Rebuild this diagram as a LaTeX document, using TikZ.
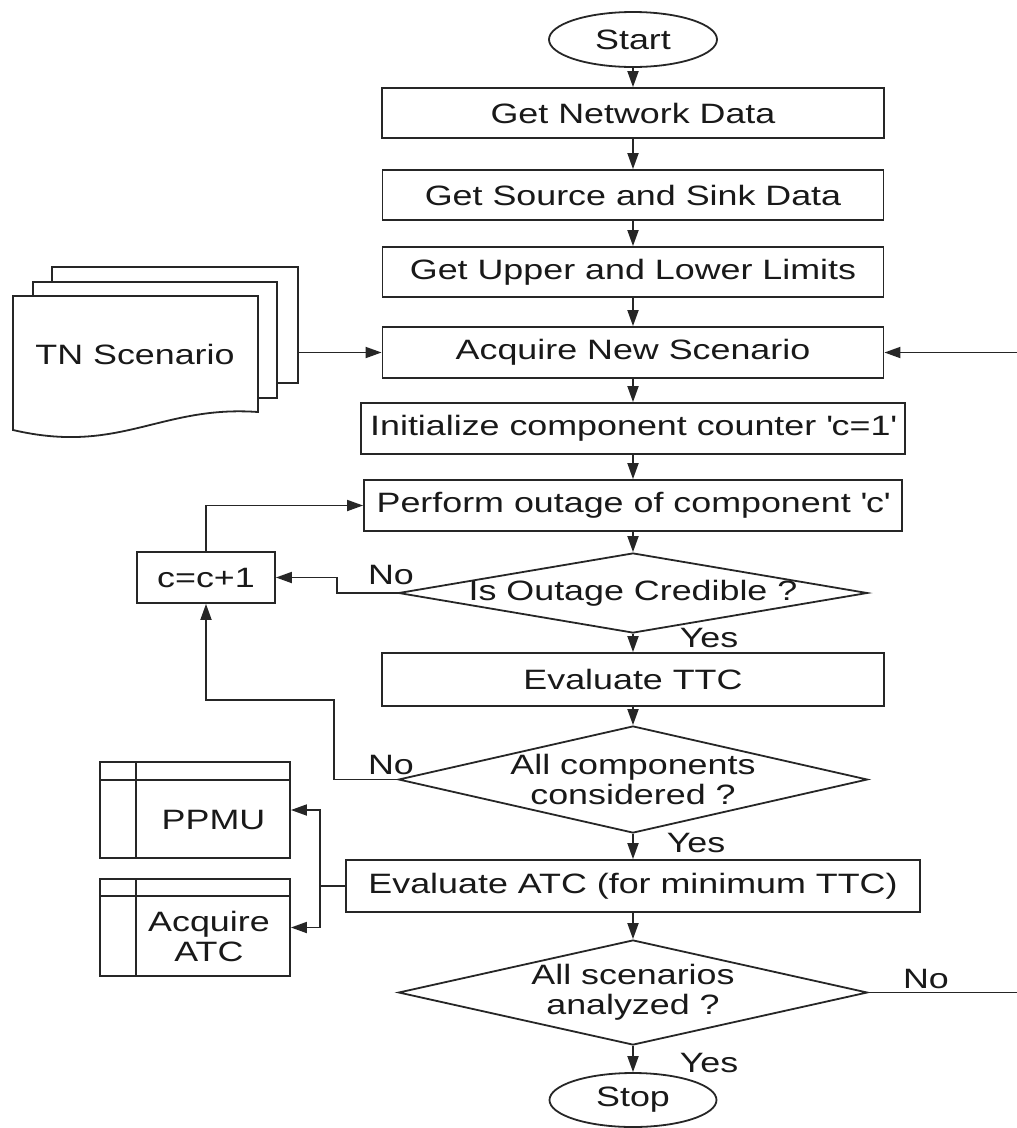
\documentclass[tikz,border=0pt]{standalone}
\usepackage{fontspec}
\setmainfont{Liberation Sans}[FakeStretch=1.28]
\usetikzlibrary{arrows.meta,shapes.geometric}
\begin{document}
\begin{tikzpicture}[x=1pt,y=-1pt,
  every node/.style={font=\fontsize{28}{30}\selectfont, text=black!90},
  ln/.style={line width=1.8pt, draw=black!85},
  box/.style={ln, rectangle, inner sep=0pt, fill=white},
  term/.style={ln, ellipse, inner sep=0pt, minimum width=168pt, minimum height=55pt},
  dec/.style={ln, diamond, inner sep=0pt, minimum width=469pt},
  arr/.style={ln, -{Triangle[length=16pt,width=11pt]}}
]
\useasboundingbox (0,0) rectangle (1017,1128);

% main column
\node[term] (start) at (633,39.5) {Start};
\node[box, minimum width=502pt, minimum height=50pt] (net) at (633,113) {Get Network Data};
\node[box, minimum width=501pt, minimum height=50pt] (src) at (633,195) {Get Source and Sink Data};
\node[box, minimum width=501pt, minimum height=50pt] (lim) at (633,272) {Get Upper and Lower Limits};
\node[box, minimum width=501pt, minimum height=51pt] (acq) at (633,352.5) {Acquire New Scenario};
\node[box, minimum width=544pt, minimum height=51pt] (init) at (633,428.5) {Initialize component counter \textquotesingle c=1\textquotesingle};
\node[box, minimum width=538pt, minimum height=51pt] (perf) at (633,505.5) {Perform outage of component \textquotesingle c\textquotesingle};
\node[dec, minimum height=80pt, label={center:Is Outage Credible ?}] (d1) at (633,593) {};
\node[box, minimum width=502pt, minimum height=53pt] (ttc) at (633,679.5) {Evaluate TTC};
\node[dec, minimum height=107pt, label={[align=center]center:All components\\considered ?}] (d2) at (633,779.5) {};
\node[box, minimum width=574pt, minimum height=52pt] (atc) at (633,886) {Evaluate ATC (for minimum TTC)};
\node[dec, minimum height=105pt, label={[align=center]center:All scenarios\\analyzed ?}] (d3) at (633,992.5) {};
\node[term, minimum width=167pt, minimum height=54pt] (stop) at (633,1100) {Stop};

% counter box
\node[box, minimum width=138pt, minimum height=51pt] (cc) at (206,577.5) {c=c+1};

% multi-document
\draw[ln, fill=white] (52,267) rectangle (298,383);
\draw[ln, fill=white] (33,282) rectangle (277,398);
\draw[ln, fill=white] (13,296) -- (258,296) -- (258,412) .. controls (160,405) and (120,455) .. (13,430) -- cycle;
\node (tn) at (135,354) {TN Scenario};
\coordinate (tnout) at (298,352.5);
\draw[arr] (tnout) -- (acq.west);

% internal storage boxes
\node[box, minimum width=190pt, minimum height=96pt, label={[xshift=18.5pt,yshift=-9.5pt]center:PPMU}] (ppmu) at (195,810) {};
\draw[ln] ([yshift=-19pt]ppmu.north west) -- ([yshift=-19pt]ppmu.north east);
\draw[ln] ([xshift=37pt]ppmu.north west) -- ([xshift=37pt]ppmu.south west);
\node[box, minimum width=190pt, minimum height=97pt, label={[align=center,xshift=14pt,yshift=-9pt]center:Acquire\\ATC}] (aatc) at (195,927.5) {};
\draw[ln] ([yshift=-18pt]aatc.north west) -- ([yshift=-18pt]aatc.north east);
\draw[ln] ([xshift=37pt]aatc.north west) -- ([xshift=37pt]aatc.south west);

\coordinate (jn) at (320,886);
\draw[ln] (atc.west) -- (jn);
\draw[arr] (jn) |- (ppmu.east);
\draw[arr] (jn) |- (aatc.east);

% main arrows
\draw[arr] (start.south) -- (net.north);
\draw[arr] (net.south) -- (src.north);
\draw[arr] (src.south) -- (lim.north);
\draw[arr] (lim.south) -- (acq.north);
\draw[arr] (acq.south) -- (init.north);
\draw[arr] (init.south) -- (perf.north);
\draw[arr] (perf.south) -- (d1.north);
\draw[arr] (d1.south) -- (ttc.north);
\draw[arr] (ttc.south) -- (d2.north);
\draw[arr] (d2.south) -- (atc.north);
\draw[arr] (atc.south) -- (d3.north);
\draw[arr] (d3.south) -- (stop.north);

% loops
\coordinate (k1) at (337,593);
\draw[arr] (d1.west) -- (k1) |- (cc.east);
\coordinate (k2) at (334,779.5);
\coordinate (k3) at (206,700);
\draw[arr] (d2.west) -- (k2) |- (k3) -- (cc.south);
\draw[arr] (cc.north) |- (perf.west);
\coordinate (rt) at (1022,992.5);
\draw[arr] (d3.east) -- (rt) |- (acq.east);

% branch labels
\node (no1) at (391,575) {No};
\node (yes1) at (709,638) {Yes};
\node (no2) at (391,765) {No};
\node (yes2) at (696,843) {Yes};
\node (no3) at (926,979) {No};
\node (yes3) at (709,1063) {Yes};
\end{tikzpicture}
\end{document}
